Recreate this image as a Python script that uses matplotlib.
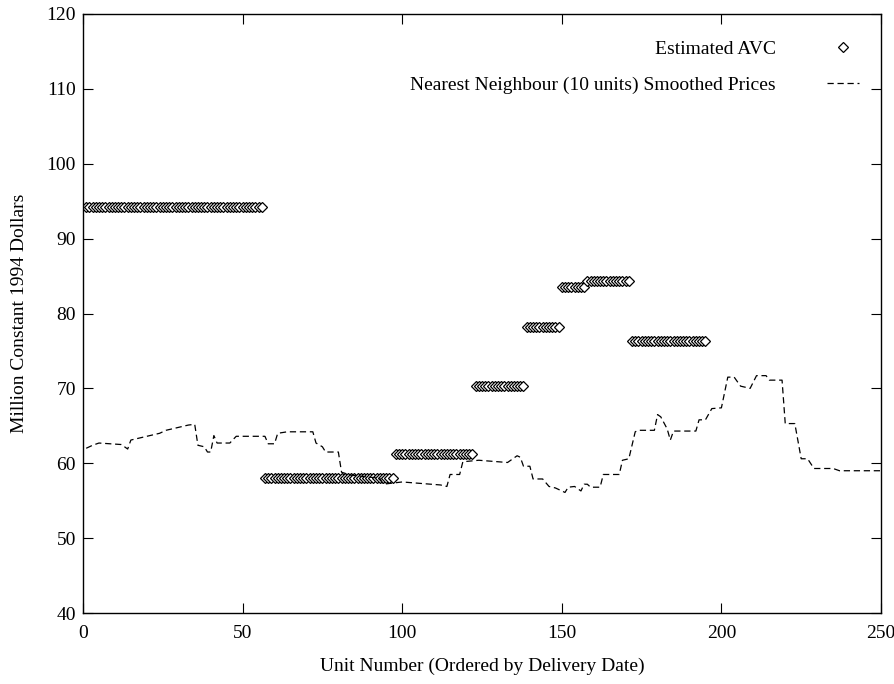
import numpy as np
import matplotlib
matplotlib.use("Agg")
import matplotlib.pyplot as plt

plt.rcParams['font.family'] = ['Liberation Serif', 'DejaVu Serif']

# Estimated AVC: (first unit, last unit, value)
avc_start = [1, 57, 98, 123, 139, 150, 158, 172]
avc_end = [56, 97, 122, 138, 149, 157, 171, 195]
avc_value = [94.2, 58.0, 61.3, 70.3, 78.2, 83.6, 84.3, 76.3]

# smoothed prices (unit, value)
sm_x = [1, 3, 5, 12, 14, 15, 20, 24, 26, 33, 35, 36, 38, 39, 40, 41, 42, 46, 48,
        57, 58, 60, 61, 64, 72, 73, 75, 76, 80, 81, 84, 93, 94, 100, 106, 112,
        114, 115, 118, 119, 124, 133, 136, 137, 138, 140, 141, 144, 146, 148,
        151, 152, 154, 156, 157, 158, 159, 162, 163, 168, 169, 171, 173, 174,
        179, 180, 181, 183, 184, 185, 192, 193, 195, 197, 200, 202, 204, 206,
        209, 211, 214, 215, 219, 220, 223, 225, 227, 229, 235, 237, 250]
sm_y = [62.0, 62.4, 62.7, 62.5, 61.9, 63.1, 63.6, 64.0, 64.4, 65.1, 65.2, 62.4,
        62.2, 61.5, 61.5, 63.7, 62.7, 62.7, 63.6, 63.6, 62.6, 62.6, 64.0, 64.2,
        64.2, 62.7, 62.2, 61.5, 61.5, 58.8, 58.4, 58.0, 57.2, 57.5, 57.3, 57.1,
        56.9, 58.5, 58.5, 60.2, 60.4, 60.1, 61.0, 60.8, 59.6, 59.6, 57.9, 57.9,
        56.9, 56.7, 56.1, 56.8, 56.9, 56.3, 57.2, 57.2, 56.8, 56.8, 58.5, 58.5,
        60.4, 60.6, 64.2, 64.4, 64.4, 66.5, 66.2, 64.6, 63.1, 64.3, 64.3, 65.8,
        65.8, 67.3, 67.4, 71.5, 71.5, 70.3, 70.0, 71.7, 71.7, 71.1, 71.1, 65.3,
        65.3, 60.6, 60.6, 59.3, 59.3, 59.0, 59.0]

avc_x = []
avc_y = []
for a, b, v in zip(avc_start, avc_end, avc_value):
    for u in range(a, b + 1):
        avc_x.append(u)
        avc_y.append(v)

fig = plt.figure(figsize=(8.95, 6.84), dpi=100)
ax = fig.add_axes([83/895, 71/684, 798/895, 599/684])

ax.plot(avc_x, avc_y, linestyle='none', marker='D', markersize=5.0,
        markerfacecolor='white', markeredgecolor='black', markeredgewidth=0.9,
        label='Estimated AVC')
ax.plot(sm_x, sm_y, color='black', linewidth=0.9, dashes=(5, 3),
        label='Nearest Neighbour (10 units) Smoothed Prices')

ax.set_xlim(0, 250)
ax.set_ylim(40, 120)
ax.set_xticks(np.arange(0, 251, 50))
ax.set_yticks(np.arange(40, 121, 10))
ax.tick_params(direction='in', length=7, width=0.8, top=True, right=True,
               labelsize=14, pad=5)
ax.tick_params(axis='x', pad=9)
for s in ax.spines.values():
    s.set_linewidth(1.0)

ax.set_xlabel('Unit Number (Ordered by Delivery Date)', fontsize=14, labelpad=11)
ax.set_ylabel('Million Constant 1994 Dollars', fontsize=14, labelpad=13)

ax.legend(loc='upper right', bbox_to_anchor=(1.005, 1.0), frameon=False,
          markerfirst=False, fontsize=14, labelspacing=0.95, handlelength=1.65,
          handletextpad=2.6, borderaxespad=0.95)

fig.savefig('out.png', dpi=100)
